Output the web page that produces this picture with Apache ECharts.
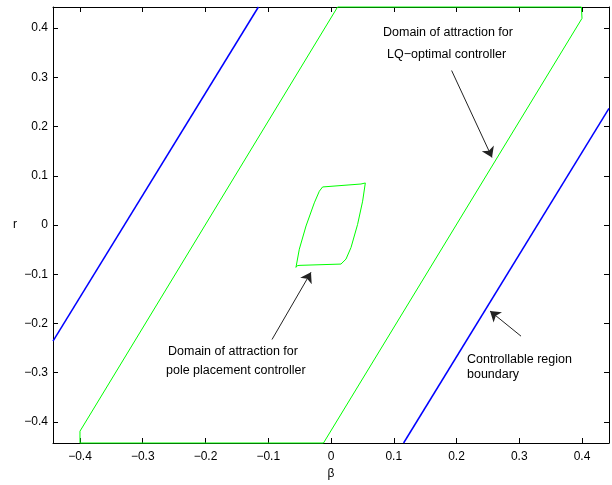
<!DOCTYPE html>
<html>
<head>
<meta charset="utf-8">
<script src="https://cdn.jsdelivr.net/npm/echarts@6/dist/echarts.min.js"></script>
<style>html,body{margin:0;padding:0;background:#fff;}#c{width:612px;height:485px;}</style>
</head>
<body>
<div id="c"></div>
<script>
// ---- data ----
var tickValues = [-0.4, -0.3, -0.2, -0.1, 0, 0.1, 0.2, 0.3, 0.4];
var axisMin = -0.443, axisMax = 0.443;
// controllable region boundary (two parallel lines)
var boundaryLeft = [[-0.443, -0.236], [-0.1157, 0.443]];
var boundaryRight = [[0.1157, -0.443], [0.443, 0.237]];
// domain of attraction, LQ-optimal controller (closed)
var lqDomain = [[-0.4, -0.443], [-0.4, -0.419], [0.0105, 0.443], [0.399, 0.443], [0.4, 0.42], [-0.012, -0.443], [-0.4, -0.443]];
// domain of attraction, pole placement controller (closed)
var ppDomain = [[-0.0558, -0.0861], [-0.0505, -0.0492], [-0.0398, -0.002], [-0.0266, 0.045], [-0.0186, 0.0686],
  [-0.0134, 0.0773], [-0.0107, 0.0803], [0.0478, 0.0833], [0.0547, 0.0854], [0.0504, 0.0484], [0.0424, 0.0013],
  [0.0319, -0.0457], [0.0239, -0.0693], [0.0159, -0.0794], [-0.0494, -0.082], [-0.0535, -0.0825], [-0.0558, -0.0861]];
// annotation arrows [from, to]
var arrowLQ = [[0.1922, 0.3139], [0.2566, 0.1372]];
var arrowPP = [[-0.094, -0.2327], [-0.0319, -0.0962]];
var arrowCR = [[0.3028, -0.2259], [0.2534, -0.1748]];

function fmt(v) {
  var s = Math.abs(v).toFixed(1);
  if (Math.abs(v) < 1e-9) return '0';
  return (v < 0 ? '\u2212' : '') + s;
}
var font = '"Liberation Sans", Arial, Helvetica, sans-serif';
function axis(pos, showLabel) {
  return {
    type: 'value', min: axisMin, max: axisMax, position: pos,
    axisLine: {show: true, onZero: false, lineStyle: {color: '#000', width: 1}},
    axisTick: {show: true, inside: true, length: 5, customValues: tickValues, lineStyle: {color: '#000'}},
    axisLabel: {show: showLabel, customValues: tickValues, formatter: fmt, color: '#000', fontSize: 12, fontFamily: font, margin: pos === 'bottom' ? 8 : 5},
    splitLine: {show: false}
  };
}
var xb = axis('bottom', true); xb.name = '\u03b2'; xb.nameLocation = 'middle'; xb.nameGap = 25;
xb.nameTextStyle = {color: '#000', fontSize: 12, fontFamily: font};
var yl = axis('left', true); yl.name = 'r'; yl.nameLocation = 'middle'; yl.nameGap = 36; yl.nameRotate = 0;
yl.nameTextStyle = {color: '#000', fontSize: 12, fontFamily: font};
var xt = axis('top', false); var yr = axis('right', false);

function txt(x, y, s) {
  return {type: 'text', left: x, top: y - 7, style: {text: s, fill: '#000', font: '12.5px ' + font}};
}
var chart = echarts.init(document.getElementById('c'), null, {renderer: 'canvas'});
chart.setOption({
  animation: false,
  backgroundColor: '#fff',
  grid: {left: 53, top: 7, right: 3, bottom: 38},
  xAxis: [xb, xt],
  yAxis: [yl, yr],
  series: [
    {type: 'line', data: boundaryLeft, showSymbol: false, lineStyle: {color: '#0000ff', width: 1.5}},
    {type: 'line', data: boundaryRight, showSymbol: false, lineStyle: {color: '#0000ff', width: 1.5}},
    {type: 'line', data: lqDomain, showSymbol: false, clip: false, lineStyle: {color: '#00ff00', width: 1}},
    {type: 'line', data: ppDomain, showSymbol: false, lineStyle: {color: '#00ff00', width: 1}},
    {type: 'lines', coordinateSystem: 'cartesian2d', symbol: ['none', 'arrow'], symbolSize: 10,
      lineStyle: {color: '#222', width: 1, opacity: 1},
      data: [{coords: arrowLQ}, {coords: arrowPP}, {coords: arrowCR}]}
  ],
  graphic: [
    txt(383, 33, 'Domain of attraction for'),
    txt(387, 55, 'LQ\u2212optimal controller'),
    txt(168, 352, 'Domain of attraction for'),
    txt(166, 371.5, 'pole placement controller'),
    txt(467, 360.5, 'Controllable region'),
    txt(467, 375.5, 'boundary')
  ]
});
</script>
</body>
</html>
